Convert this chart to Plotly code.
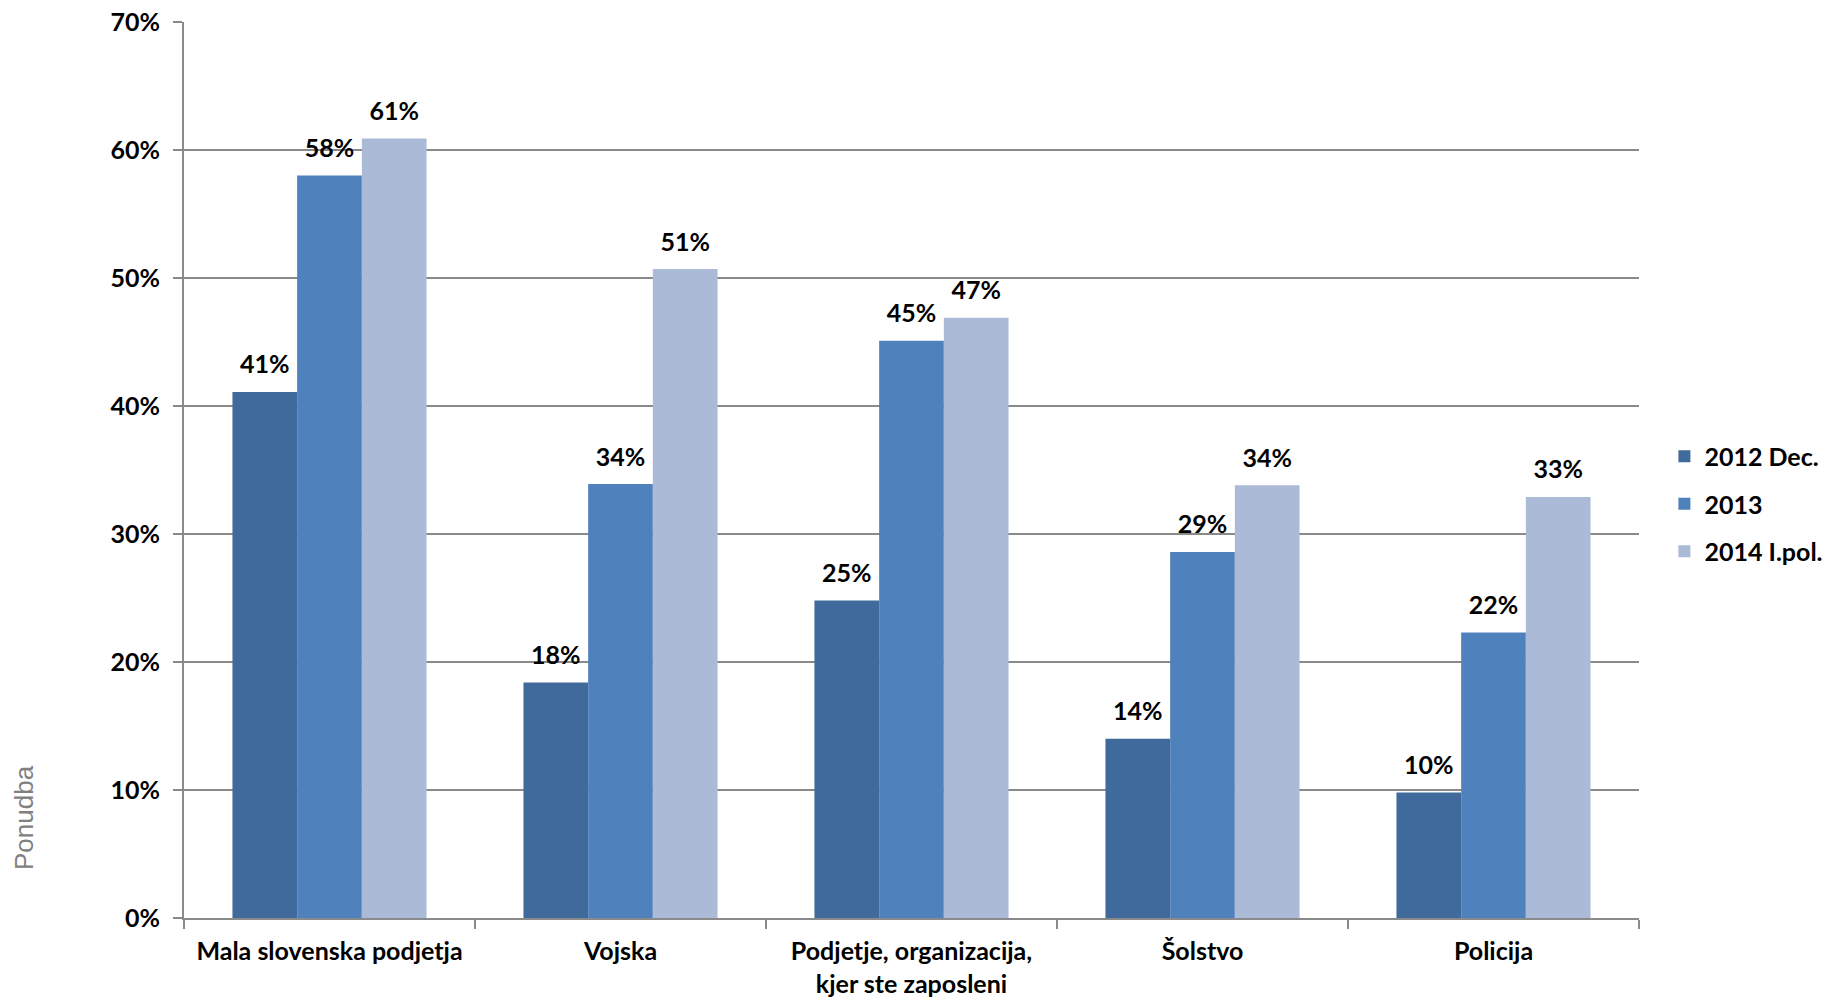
import plotly.graph_objects as go

categories = ["Mala slovenska podjetja", "Vojska", "Podjetje, organizacija,<br>kjer ste zaposleni", "Šolstvo", "Policija"]
series_names = ["2012 Dec.", "2013", "2014 I.pol."]
values_2012 = [0.411, 0.184, 0.248, 0.140, 0.098]
values_2013 = [0.580, 0.339, 0.451, 0.286, 0.223]
values_2014 = [0.609, 0.507, 0.469, 0.338, 0.329]
colors = ["#416A9C", "#4F81BD", "#AABAD7"]
y_ticks = [0, 0.1, 0.2, 0.3, 0.4, 0.5, 0.6, 0.7]

FONT = "Lato"
FS = 25
fig = go.Figure()
all_vals = [values_2012, values_2013, values_2014]
for i, (name, vals) in enumerate(zip(series_names, all_vals)):
    fig.add_trace(go.Bar(
        x=categories, y=vals, name=name,
        marker=dict(color=colors[i], line=dict(width=0)),
        offsetgroup=f"g{i}", legendgroup=name,
    ))
# value labels, grouped like the bars
for i, (name, vals) in enumerate(zip(series_names, all_vals)):
    fig.add_trace(go.Scatter(
        x=categories, y=vals, mode="markers+text",
        marker=dict(size=18, opacity=0, color=colors[i]),
        texttemplate="%{y:.0%}", textposition="top center",
        textfont=dict(family=FONT, size=FS, color="#000000", weight="bold"),
        offsetgroup=f"g{i}", showlegend=False, hoverinfo="skip", cliponaxis=False,
    ))

grid = "#8a8a8a"
fig.update_layout(
    width=1823, height=997,
    margin=dict(l=184, r=184, t=22, b=79, autoexpand=False),
    paper_bgcolor="white", plot_bgcolor="white",
    barmode="group", bargap=0.333, bargroupgap=0,
    scattermode="group", scattergap=0.333,
    font=dict(family=FONT, size=FS, color="#000000"),
    showlegend=True,
    legend=dict(
        xref="container", yref="container", x=0.913, y=1 - 504 / 997,
        xanchor="left", yanchor="middle",
        font=dict(family=FONT, size=FS, color="#000000", weight="bold"),
        traceorder="grouped", tracegroupgap=12, bgcolor="rgba(0,0,0,0)",
    ),
    xaxis=dict(
        automargin=False,
        showgrid=False, showline=True, linecolor=grid, linewidth=2,
        ticks="outside", tickson="boundaries", ticklen=9, tickcolor=grid, tickwidth=2,
        tickfont=dict(family=FONT, size=FS, color="#000000", weight="bold"),
        ticklabelstandoff=10,
    ),
    yaxis=dict(
        automargin=False,
        range=[0, 0.7], tickvals=y_ticks, tickformat=".0%",
        showgrid=True, gridcolor=grid, gridwidth=2,
        showline=True, linecolor=grid, linewidth=2,
        ticks="outside", ticklen=9, tickcolor=grid, tickwidth=2,
        tickfont=dict(family=FONT, size=FS, color="#000000", weight="bold"),
        ticklabelstandoff=8, zeroline=False,
    ),
    annotations=[dict(
        text="Ponudba", xref="paper", yref="paper",
        x=(24 - 184) / 1455, y=(918 - 818) / 896, xanchor="center", yanchor="middle",
        textangle=-90, showarrow=False,
        font=dict(family="Liberation Sans", size=26, color="#808080"),
    )],
)

fig.write_html("out.html", config={"displayModeBar": False},
               post_script="document.body.style.margin='0';")
